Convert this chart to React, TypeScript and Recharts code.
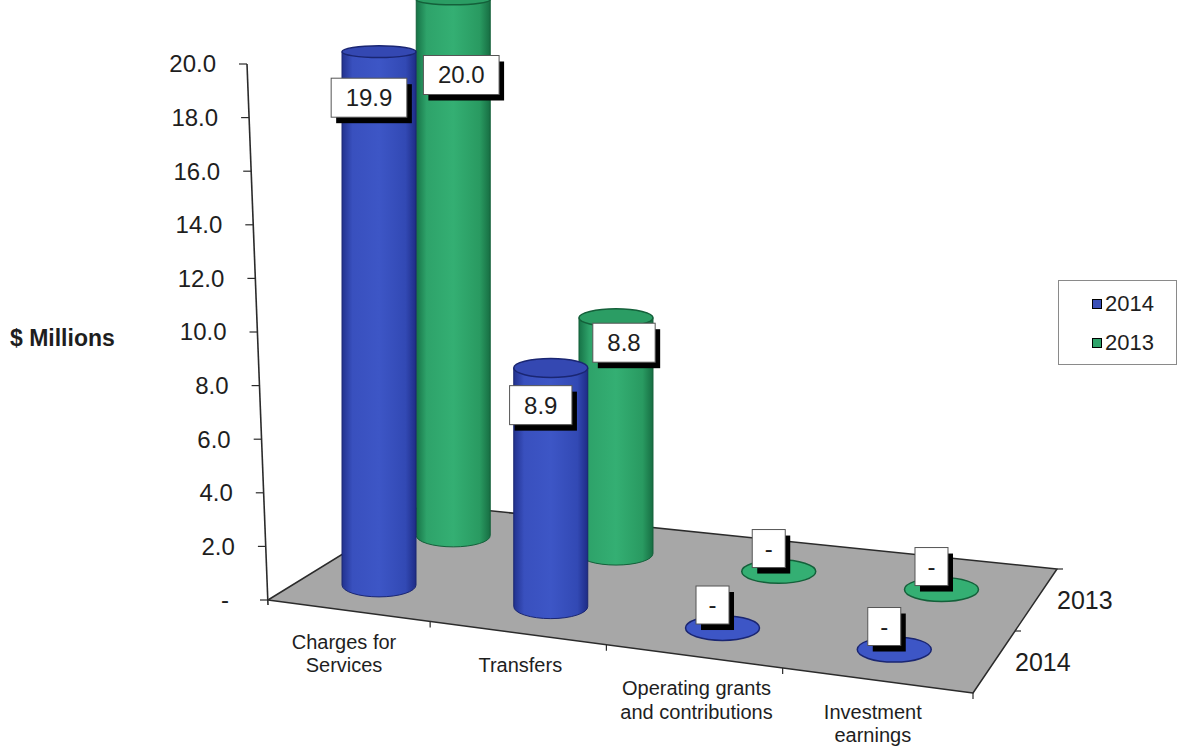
import React from "react";
import { ComposedChart, Bar, XAxis, YAxis, Legend, Customized } from "recharts";

// ---------- data ----------
const categories = [
  "Charges for\nServices",
  "Transfers",
  "Operating grants\nand contributions",
  "Investment\nearnings",
];
const values2014 = [19.9, 8.9, 0, 0];
const values2013 = [20.0, 8.8, 0, 0];
const seriesNames = ["2014", "2013"];
const yTicks = [0, 2, 4, 6, 8, 10, 12, 14, 16, 18, 20];
const yDomain = [0, 20];
const axisTitle = "$ Millions";

const data = categories.map((cat, i) => ({
  cat,
  s2014: values2014[i],
  s2013: values2013[i],
}));

// ---------- layout ----------
const CHART_W = 1185;
const CHART_H = 747;
const Y_AXIS_W = 60;
const X_AXIS_H = 30;
const MARGIN = { top: 64, right: 212, bottom: 117, left: 208 };
const PLOT_L = MARGIN.left + Y_AXIS_W;
const PLOT_R = CHART_W - MARGIN.right;
const PLOT_B = CHART_H - MARGIN.bottom - X_AXIS_H;
const PLOT_W = PLOT_R - PLOT_L;

const FONT = "'Liberation Sans', Arial, Helvetica, sans-serif";
const TEXT = "#1e1e1e";
const EDGE = "#2b2b2b";

// floor (3-D projection of the category/series plane)
const FRONT_DROP = 93;
const BACK_LEFT = [156, -96];
const BACK_RIGHT = [84, -124];
const U_SHIFT = -0.02;
const ROW_DEPTH: Record<string, number> = { "2014": 0.25, "2013": 0.75 };
const AXIS_LEAN = 21 / 536;

const P = (u: number, v: number): [number, number] => {
  const fx = PLOT_L + PLOT_W * u;
  const fy = PLOT_B + FRONT_DROP * u;
  const blx = PLOT_L + BACK_LEFT[0];
  const bly = PLOT_B + BACK_LEFT[1];
  const brx = PLOT_R + BACK_RIGHT[0];
  const bry = PLOT_B + FRONT_DROP + BACK_RIGHT[1];
  const bx = blx + (brx - blx) * u;
  const by = bly + (bry - bly) * u;
  return [fx + (bx - fx) * v, fy + (by - fy) * v];
};
const uOf = (x: number) => (x - PLOT_L) / PLOT_W + U_SHIFT;
const axisXAt = (y: number) => PLOT_L - (PLOT_B - y) * AXIS_LEAN;
const ryAt = (y: number) => Math.max(4, Math.min(13, 6 + (y - 60) * 0.0112));

const COLORS: Record<string, any> = {
  "2014": {
    grad: "gradBlue",
    stops: ["#22328f", "#3950be", "#3d56c6", "#3249b4", "#1e2c86"],
    top: "#3448b2",
    stroke: "#1a2672",
    legend: "#3a50b8",
  },
  "2013": {
    grad: "gradGreen",
    stops: ["#177347", "#2ea36a", "#34af73", "#299a61", "#176e43"],
    top: "#2b9d64",
    stroke: "#14603a",
    legend: "#2ea36a",
  },
};

const textW = (s: string, fs: number) =>
  s.split("").reduce((a, ch) => a + (ch === "." ? 0.278 : ch === "-" ? 0.333 : 0.556), 0) * fs;

// ---------- marks ----------
const LabelBox = ({ cx, cy, txt }: { cx: number; cy: number; txt: string }) => {
  const fs = 24;
  const bw = txt === "-" ? 33 : textW(txt, fs) + 29;
  const bh = txt === "-" ? 38 : 39;
  const x0 = cx - bw / 2;
  const y0 = cy - bh / 2;
  return (
    <g>
      <rect x={x0 + 5} y={y0 + 6} width={bw} height={bh} fill="#000" />
      <rect x={x0} y={y0} width={bw} height={bh} fill="#fff" stroke="#555" strokeWidth={1} />
      <text x={cx} y={cy} dy="0.35em" textAnchor="middle" fontSize={fs} fontFamily={FONT} fill={TEXT}>
        {txt}
      </text>
    </g>
  );
};

const makeCylinder = (series: string) => (props: any) => {
  const { x, width, height, value } = props;
  const c = COLORS[series];
  const row = ROW_DEPTH[series];
  const bandCx = x + width / 2;
  const [gx, gy] = P(uOf(bandCx), row);
  const rx = width / 2;
  const h = Math.max(0, Number(height) || 0);
  const ty = gy - h;
  const ryB = ryAt(gy);
  const ryT = ryAt(ty);
  const v = Array.isArray(value) ? value[1] - value[0] : Number(value);
  const txt = v === 0 ? "-" : v.toFixed(1);
  let lcx: number;
  let lcy: number;
  if (v === 0) {
    lcx = gx - 10;
    lcy = gy - 4 - 19;
  } else if (series === "2014") {
    lcx = gx - 10;
    lcy = ty + 30 + h * 0.03;
  } else {
    lcx = gx + 8;
    lcy = Math.max(ty + 25, 75);
  }
  const body =
    h > 0.5
      ? `M${gx - rx},${ty} L${gx - rx},${gy} A${rx},${ryB} 0 0 0 ${gx + rx},${gy} L${gx + rx},${ty} Z`
      : null;
  return (
    <g>
      {body && <path d={body} fill={`url(#${c.grad})`} stroke={c.stroke} strokeWidth={1} />}
      <ellipse
        cx={gx}
        cy={ty}
        rx={rx}
        ry={h > 0.5 ? ryT : ryB}
        fill={h > 0.5 ? c.top : c.stops[2]}
        stroke={c.stroke}
        strokeWidth={1.5}
      />
      <LabelBox cx={lcx} cy={lcy} txt={txt} />
    </g>
  );
};

const CategoryTick = (props: any) => {
  const { x, payload } = props;
  const [fx, fy] = P(uOf(x), 0);
  const lines = String(payload.value).split("\n");
  const bandW = PLOT_W / categories.length;
  const isLast = payload.value === categories[categories.length - 1];
  const [bx, by] = P(uOf(x + bandW / 2), 0);
  return (
    <g>
      {!isLast && <line x1={bx} y1={by} x2={bx} y2={by + 6} stroke={EDGE} strokeWidth={1.2} />}
      <text x={fx + 2} y={fy + 32} textAnchor="middle" fontSize={20} fontFamily={FONT} fill={TEXT}>
        {lines.map((l, i) => (
          <tspan key={i} x={fx + 2} dy={i === 0 ? "0.35em" : 23.5}>
            {l}
          </tspan>
        ))}
      </text>
    </g>
  );
};

const ValueTick = (props: any) => {
  const { y, payload } = props;
  const ax = axisXAt(y);
  const v = Number(payload.value);
  return (
    <g>
      <line x1={ax - 8} y1={y} x2={ax} y2={y} stroke={EDGE} strokeWidth={1.2} />
      <text
        x={v === 0 ? ax - 39 : ax - 31}
        y={y}
        dy="0.35em"
        textAnchor="end"
        fontSize={24}
        fontFamily={FONT}
        fill={TEXT}
      >
        {v === 0 ? "-" : v.toFixed(1)}
      </text>
    </g>
  );
};

const Floor = () => {
  const corners = [P(0, 0), P(1, 0), P(1, 1), P(0, 1)];
  const top = MARGIN.top;
  const rightMid = P(1, 0.5);
  const backR = P(1, 1);
  const frontR = P(1, 0);
  const frontL = P(0, 0);
  const depthLabels = seriesNames.map((s) => {
    const [px, py] = P(1, ROW_DEPTH[s]);
    return (
      <text key={s} x={px + 21} y={py} dy="0.35em" fontSize={25} fontFamily={FONT} fill={TEXT}>
        {s}
      </text>
    );
  });
  return (
    <g>
      <defs>
        {seriesNames.map((s) => (
          <linearGradient key={s} id={COLORS[s].grad} x1="0" y1="0" x2="1" y2="0">
            <stop offset="0" stopColor={COLORS[s].stops[0]} />
            <stop offset="0.14" stopColor={COLORS[s].stops[1]} />
            <stop offset="0.5" stopColor={COLORS[s].stops[2]} />
            <stop offset="0.86" stopColor={COLORS[s].stops[3]} />
            <stop offset="1" stopColor={COLORS[s].stops[4]} />
          </linearGradient>
        ))}
      </defs>
      <polygon
        points={corners.map((p) => p.join(",")).join(" ")}
        fill="#a7a7a7"
        stroke={EDGE}
        strokeWidth={1.5}
        strokeLinejoin="round"
      />
      <line x1={frontL[0]} y1={frontL[1] + 5} x2={axisXAt(top)} y2={top} stroke={EDGE} strokeWidth={1.6} />
      <line x1={frontR[0]} y1={frontR[1]} x2={frontR[0]} y2={frontR[1] + 6} stroke={EDGE} strokeWidth={1.2} />
      <line x1={rightMid[0]} y1={rightMid[1]} x2={rightMid[0] + 6} y2={rightMid[1]} stroke={EDGE} strokeWidth={1.2} />
      <line x1={backR[0]} y1={backR[1]} x2={backR[0] + 6} y2={backR[1]} stroke={EDGE} strokeWidth={1.2} />
      {depthLabels}
      <text
        x={10}
        y={338}
        dy="0.35em"
        fontSize={23}
        fontWeight="bold"
        fontFamily={FONT}
        fill={TEXT}
      >
        {axisTitle}
      </text>
    </g>
  );
};

const LegendBox = (props: any) => {
  const payload: any[] = props.payload || [];
  const items = seriesNames.map((n) => payload.find((p) => p.value === n) || { value: n, color: COLORS[n].legend });
  return (
    <div
      style={{
        width: 119,
        height: 85,
        boxSizing: "border-box",
        border: "1px solid #8a8a8a",
        background: "#fff",
        fontFamily: FONT,
        paddingTop: 3,
      }}
    >
      {items.map((it) => (
        <div key={it.value} style={{ display: "flex", alignItems: "center", height: 39, paddingLeft: 33 }}>
          <span
            style={{
              display: "inline-block",
              width: 8,
              height: 8,
              background: COLORS[it.value].legend,
              border: "1.5px solid #000",
              marginRight: 3,
            }}
          />
          <span style={{ fontSize: 22, color: TEXT, lineHeight: "22px" }}>{it.value}</span>
        </div>
      ))}
    </div>
  );
};

export default function App() {
  return (
    <div style={{ position: "absolute", left: 0, top: 0, width: CHART_W, height: CHART_H, background: "#fff" }}>
      <ComposedChart width={CHART_W} height={CHART_H} data={data} margin={MARGIN}>
        <Customized component={Floor} />
        <XAxis
          xAxisId="front"
          dataKey="cat"
          height={X_AXIS_H}
          axisLine={false}
          tickLine={false}
          interval={0}
          tick={(p: any) => <CategoryTick {...p} />}
        />
        <XAxis xAxisId="back" dataKey="cat" hide />
        <YAxis
          domain={yDomain}
          ticks={yTicks}
          width={Y_AXIS_W}
          axisLine={false}
          tickLine={false}
          interval={0}
          tick={(p: any) => <ValueTick {...p} />}
        />
        <Bar
          xAxisId="back"
          dataKey="s2013"
          name="2013"
          fill={COLORS["2013"].legend}
          barSize={74}
          isAnimationActive={false}
          shape={makeCylinder("2013")}
        />
        <Bar
          xAxisId="front"
          dataKey="s2014"
          name="2014"
          fill={COLORS["2014"].legend}
          barSize={74}
          isAnimationActive={false}
          shape={makeCylinder("2014")}
        />
        <Legend
          layout="horizontal"
          align="center"
          verticalAlign="middle"
          content={(p: any) => <LegendBox {...p} />}
          wrapperStyle={{ position: "absolute", left: 1058, top: 280, width: 119, height: 85 }}
        />
      </ComposedChart>
    </div>
  );
}
